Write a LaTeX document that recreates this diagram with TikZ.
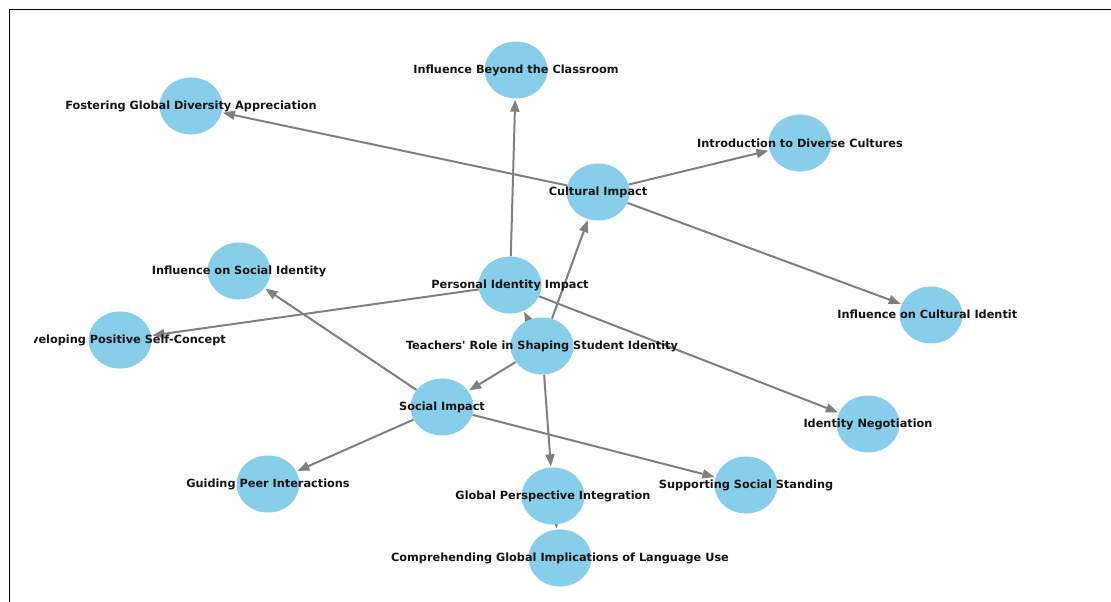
\documentclass[tikz,border=0pt]{standalone}
\usepackage{fontspec}
\setmainfont{DejaVu Sans}
\usetikzlibrary{arrows.meta,shapes.geometric,backgrounds}
\definecolor{nodeblue}{HTML}{87CEEB}
\definecolor{edgegray}{HTML}{808080}
\begin{document}
\begin{tikzpicture}[x=1pt,y=-1pt,
  topic/.style={ellipse,fill=nodeblue,draw=none,minimum width=63pt,minimum height=57pt,inner sep=0pt},
  tag/.style={font=\fontsize{11.3pt}{13pt}\selectfont\bfseries,text=black!92,inner sep=0pt},
  link/.style={draw=edgegray,line width=2pt,-{Triangle[length=12pt,width=9pt]},shorten >=1pt}]
\useasboundingbox (0,0) rectangle (1111,602);

% topics
\node[topic] (fost) at (191,106) {};
\node[topic] (beyond) at (516,70) {};
\node[topic] (intro) at (800,143) {};
\node[topic] (cult) at (598,192) {};
\node[topic] (socid) at (239,271) {};
\node[topic] (pers) at (510,285) {};
\node[topic] (cultid) at (931,315) {};
\node[topic] (selfc) at (120,340) {};
\node[topic] (teach) at (542,346) {};
\node[topic] (social) at (442,407) {};
\node[topic] (negot) at (868,424) {};
\node[topic] (peer) at (268,484) {};
\node[topic] (glob) at (553,496) {};
\node[topic] (stand) at (746,485) {};
\node[topic] (compr) at (560,558) {};

% white page and links beneath the topics
\begin{pgfonlayer}{background}
\fill[white] (0,0) rectangle (1111,602);
\draw[line width=1.6pt] (9.5,602) -- (9.5,9.5) -- (1111,9.5);
\draw[link] (cult) -- (fost);
\draw[link] (cult) -- (intro);
\draw[link] (cult) -- (cultid);
\draw[link] (pers) -- (beyond);
\draw[link] (pers) -- (selfc);
\draw[link] (pers) -- (negot);
\draw[link] (teach) -- (pers);
\draw[link] (teach) -- (cult);
\draw[link] (teach) -- (social);
\draw[link] (teach) -- (glob);
\draw[link] (social) -- (socid);
\draw[link] (social) -- (peer);
\draw[link] (social) -- (stand);
\draw[link] (glob) -- (compr);
\end{pgfonlayer}

% labels
\begin{scope}
\clip (34,0) rectangle (1016,602);
\node[tag] (t-fost) at (fost) {Fostering Global Diversity Appreciation};
\node[tag] (t-beyond) at (beyond) {Influence Beyond the Classroom};
\node[tag] (t-intro) at (intro) {Introduction to Diverse Cultures};
\node[tag] (t-cult) at (cult) {Cultural Impact};
\node[tag] (t-socid) at (socid) {Influence on Social Identity};
\node[tag] (t-pers) at (pers) {Personal Identity Impact};
\node[tag] (t-cultid) at (cultid) {Influence on Cultural Identity};
\node[tag] (t-selfc) at (selfc) {Developing Positive Self-Concept};
\node[tag] (t-teach) at (teach) {Teachers\textquotesingle{} Role in Shaping Student Identity};
\node[tag] (t-social) at (social) {Social Impact};
\node[tag] (t-negot) at (negot) {Identity Negotiation};
\node[tag] (t-peer) at (peer) {Guiding Peer Interactions};
\node[tag] (t-glob) at (glob) {Global Perspective Integration};
\node[tag] (t-stand) at (stand) {Supporting Social Standing};
\node[tag] (t-compr) at (compr) {Comprehending Global Implications of Language Use};
\end{scope}
\end{tikzpicture}
\end{document}
